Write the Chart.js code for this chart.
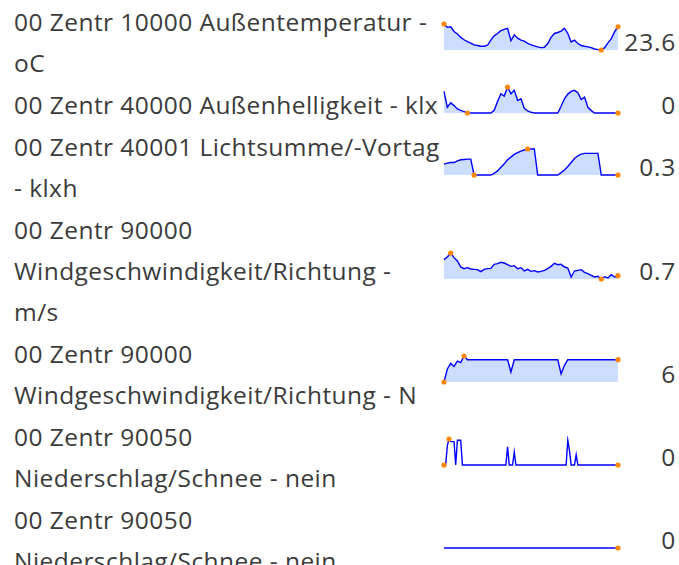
<!DOCTYPE html>
<html lang="de">
<head>
    <meta charset="UTF-8">
    <title>Sensoren</title>
    <script src="https://cdn.jsdelivr.net/npm/chart.js"></script>
    <style>
        body { margin: 0; background: #fff; font-family: "Open Sans", sans-serif; font-size: 24.5px; letter-spacing: 0.45px; color: #3b3b3b; }
        #rows { position: relative; width: 679px; height: 565px; overflow: hidden; }
        .row { position: absolute; left: 0; width: 679px; }
        .label { position: absolute; left: 14px; top: 1px; line-height: 41px; white-space: pre; }
        .spark { position: absolute; left: 441px; }
        .value { position: absolute; right: 3px; top: 0; bottom: 0; display: flex; align-items: center; letter-spacing: 0.8px; }
    </style>
</head>
<body>
    <div id="rows"></div>

    <script>
        // row names and current readings
        var names = [
            "00 Zentr 10000 Außentemperatur -\noC",
            "00 Zentr 40000 Außenhelligkeit - klx",
            "00 Zentr 40001 Lichtsumme/-Vortag\n- klxh",
            "00 Zentr 90000\nWindgeschwindigkeit/Richtung -\nm/s",
            "00 Zentr 90000\nWindgeschwindigkeit/Richtung - N",
            "00 Zentr 90050\nNiederschlag/Schnee - nein",
            "00 Zentr 90050\nNiederschlag/Schnee - nein"
        ];
        var current = ["23.6", "0", "0.3", "0.7", "6", "0", "0"];

        // history per sensor
        var tempValues = [25.0, 23.3, 23.6, 21.2, 19.9, 18.2, 17.0, 16.1, 15.3, 14.4,
            14.1, 13.7, 13.7, 14.2, 16.8, 19.0, 20.2, 21.6, 22.3, 22.8,
            16.5, 19.5, 17.8, 16.8, 16.3, 15.1, 14.4, 13.9, 13.4, 13.0,
            13.2, 15.1, 18.2, 20.2, 20.7, 21.4, 22.8, 20.2, 15.9, 16.8,
            15.1, 14.1, 13.7, 13.4, 13.0, 12.3, 12.0, 11.8, 13.0, 15.4,
            17.6, 21.1, 23.6];
        var lightValues = [50, 13.2, 23.4, 17.1, 9.3, 6.2, 3.1, 0, 0, 0,
            0, 0, 0, 0, 0, 6.2, 26.5, 44.4, 39, 60,
            44.4, 52.2, 28.8, 32.7, 10.9, 4.7, 1.6, 0, 0, 0,
            0, 0, 0, 0, 0, 15.6, 32.7, 43.6, 49.9, 52.2,
            46.7, 31.2, 36.6, 13.2, 5.5, 0, 0, 0, 0, 0,
            0, 0, 0];
        var lightSumValues = [175, 191, 202, 202, 229, 246, 251, 256, 256, 0.3,
            0.3, 0.3, 0.3, 0.3, 0.3, 28, 66, 126, 180, 246,
            289, 333, 360, 387, 404, 420, 420, 420, 0.3, 0.3,
            0.3, 0.3, 0.3, 0.3, 0.3, 38, 82, 137, 202, 267,
            311, 338, 349, 349, 349, 349, 349, 0.3, 0.3, 0.3,
            0.3, 0.3, 0.3];
        var windSpeedValues = [3.1, 3.5, 4.1, 3.4, 2.9, 2.0, 1.75, 1.9, 1.7, 1.65,
            1.6, 1.3, 1.65, 1.75, 1.8, 2.4, 2.5, 2.7, 2.6, 2.35,
            2.1, 2.2, 1.75, 1.9, 1.4, 1.65, 1.35, 1.45, 1.25, 1.35,
            1.5, 1.75, 2.1, 2.55, 2.35, 2.4, 2.0, 1.85, 0.5, 1.4,
            1.5, 1.6, 1.2, 1.0, 0.75, 0.5, 0.6, 0.2, 0.55, 0.35,
            0.85, 0.5, 0.7];
        var windDirValues = [0, 3.5, 5.0, 4.2, 5.6, 5.2, 7, 6, 6, 6,
            6, 6, 6, 6, 6, 6, 6, 6, 6, 6,
            2.7, 6, 6, 6, 6, 6, 6, 6, 6, 6,
            6, 6, 6, 6, 6, 2.2, 4.5, 6, 6, 6,
            6, 6, 6, 6, 6, 6, 6, 6, 6, 6,
            6, 6, 6];
        var rainValues = [0, 0, 0.75, 1, 0.9, 0.9, 0.9, 0, 0.95, 0.95,
            0.95, 0, 0, 0, 0, 0, 0, 0, 0, 0,
            0, 0, 0, 0, 0, 0, 0, 0, 0, 0,
            0, 0, 0, 0, 0, 0, 0, 0, 0.7, 0,
            0, 0, 0.5, 0, 0, 0, 0, 0, 0, 0,
            0, 0, 0, 0, 0, 0, 0, 0, 0, 0,
            0, 0, 0, 0, 0, 0, 0, 0, 0, 0,
            0, 0, 0, 0, 0.95, 0.55, 0, 0, 0, 0.4,
            0, 0, 0, 0, 0, 0, 0, 0, 0, 0,
            0, 0, 0, 0, 0, 0, 0, 0, 0, 0,
            0, 0, 0, 0, 0];
        var snowValues = [0, 0, 0, 0, 0, 0, 0, 0, 0, 0,
            0, 0, 0, 0, 0, 0, 0, 0, 0, 0,
            0, 0, 0, 0, 0, 0, 0, 0, 0, 0,
            0, 0, 0, 0, 0, 0, 0, 0, 0, 0,
            0, 0, 0, 0, 0, 0, 0, 0, 0, 0,
            0, 0, 0];

        var series = [tempValues, lightValues, lightSumValues, windSpeedValues, windDirValues, rainValues, snowValues];
        var filled = [true, true, true, true, true, false, false];

        var LINE_H = 41;

        function sparkline(canvas, values, fillArea) {
            var lo = Math.min.apply(null, values);
            var hi = Math.max.apply(null, values);
            var flat = lo === hi;
            var iMin = values.indexOf(lo), iMax = values.indexOf(hi), last = values.length - 1;
            // spots on first min, first max and the last value
            var radius = values.map(function (v, k) {
                return (k === last || (!flat && (k === iMin || k === iMax))) ? 2.6 : 0;
            });
            new Chart(canvas, {
                type: 'line',
                data: {
                    labels: values.map(function (v, k) { return k; }),
                    datasets: [{
                        data: values,
                        borderColor: '#00f',
                        borderWidth: 1.4,
                        backgroundColor: '#cdf',
                        fill: fillArea ? 'start' : false,
                        pointRadius: radius,
                        pointHoverRadius: 0,
                        pointBackgroundColor: '#f80',
                        pointBorderWidth: 0,
                        tension: 0,
                        clip: false
                    }]
                },
                options: {
                    responsive: false,
                    animation: false,
                    events: [],
                    layout: { padding: 3 },
                    plugins: { legend: { display: false }, tooltip: { enabled: false } },
                    scales: {
                        x: { display: false },
                        y: { display: false, min: lo, max: flat ? lo + 1 : hi }
                    }
                }
            });
        }

        function buildRows() {
            var holder = document.getElementById('rows');
            var rowTop = 0;
            names.forEach(function (name, i) {
                var h = name.split('\n').length * LINE_H + 1;
                var row = document.createElement('div');
                row.className = 'row';
                row.style.top = rowTop + 'px';
                row.style.height = h + 'px';

                var label = document.createElement('div');
                label.className = 'label';
                label.textContent = name;
                row.appendChild(label);

                var canvas = document.createElement('canvas');
                canvas.className = 'spark';
                canvas.width = 180;
                canvas.height = 32;
                canvas.style.top = (h / 2 - 20.5) + 'px';
                row.appendChild(canvas);

                var val = document.createElement('div');
                val.className = 'value';
                val.textContent = current[i];
                row.appendChild(val);

                holder.appendChild(row);
                sparkline(canvas, series[i], filled[i]);
                rowTop += h;
            });
        }
        buildRows();
    </script>
</body>
</html>
